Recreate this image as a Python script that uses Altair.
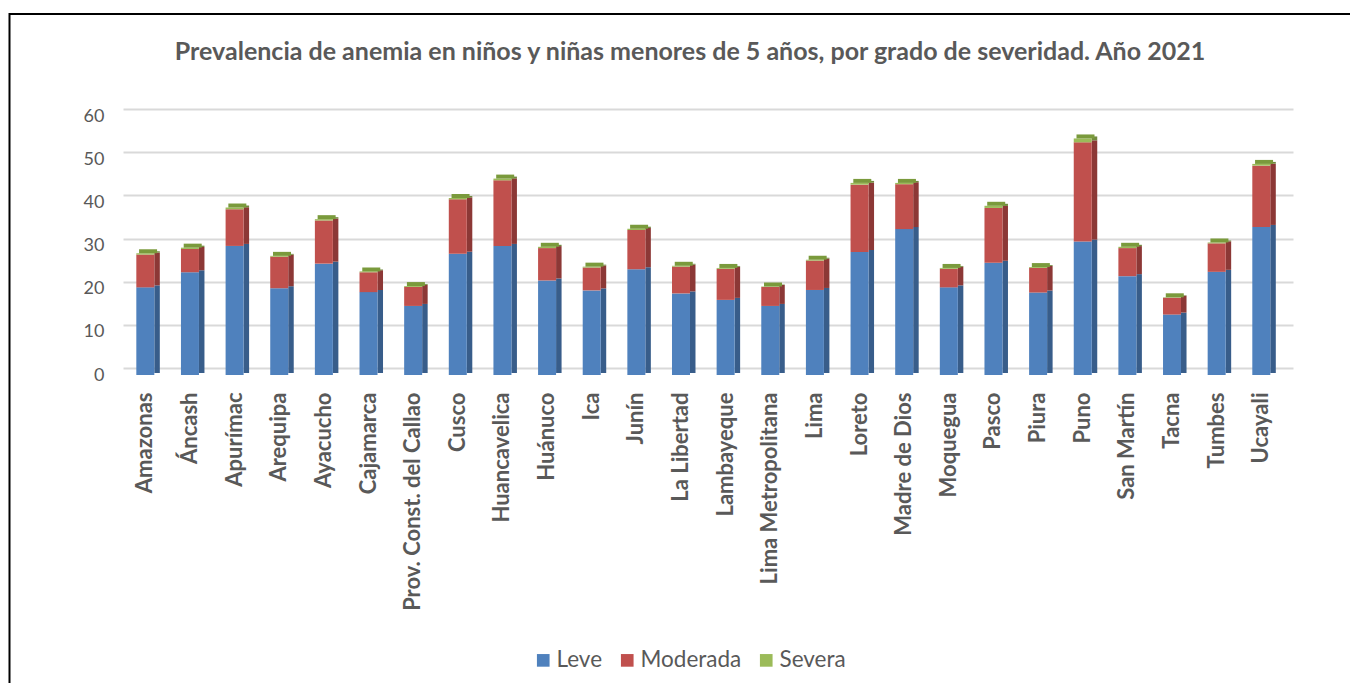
import altair as alt
import pandas as pd

departamentos = ["Amazonas", "Áncash", "Apurímac", "Arequipa", "Ayacucho", "Cajamarca",
                 "Prov. Const. del Callao", "Cusco", "Huancavelica", "Huánuco", "Ica", "Junín",
                 "La Libertad", "Lambayeque", "Lima Metropolitana", "Lima", "Loreto",
                 "Madre de Dios", "Moquegua", "Pasco", "Piura", "Puno", "San Martín", "Tacna",
                 "Tumbes", "Ucayali"]
leve = [20.3, 23.8, 29.9, 20.1, 25.8, 19.2, 16.0, 28.1, 29.9, 21.9, 19.6, 24.5, 18.9,
        17.4, 16.0, 19.7, 28.5, 33.8, 20.3, 26.0, 19.1, 30.9, 22.9, 14.0, 23.9, 34.3]
moderada = [7.6, 5.4, 8.5, 7.3, 10.0, 4.6, 4.4, 12.6, 15.2, 7.5, 5.3, 9.1, 6.2,
            7.2, 4.4, 6.8, 15.6, 10.4, 4.3, 12.7, 5.7, 23.0, 6.5, 3.9, 6.6, 14.2]
severa = [0.3, 0.3, 0.4, 0.2, 0.3, 0.2, 0.2, 0.3, 0.4, 0.3, 0.2, 0.3, 0.2,
          0.2, 0.1, 0.2, 0.4, 0.3, 0.2, 0.5, 0.2, 0.9, 0.3, 0.1, 0.2, 0.4]
series = ["Leve", "Moderada", "Severa"]
y_ticks = [0, 10, 20, 30, 40, 50, 60]
titulo = "Prevalencia de anemia en niños y niñas menores de 5 años, por grado de severidad. Año 2021"

rows = []
for i, d in enumerate(departamentos):
    for k, (s, vals) in enumerate(zip(series, [leve, moderada, severa])):
        rows.append({"dep": d, "serie": s, "orden": k, "valor": vals[i]})
df = pd.DataFrame(rows)

FONT = "Lato"
GRAY = "#595959"
front_colors = ["#4F81BD", "#C0504D", "#9BBB59"]
side_colors = ["#385D8A", "#8C3836", "#71893F"]

x_enc = alt.X("dep:N", sort=departamentos,
              scale=alt.Scale(paddingInner=0, paddingOuter=0.105, align=0),
              axis=alt.Axis(title=None, labelAngle=-90, labelFontWeight="bold",
                            labelFontSize=22, labelColor=GRAY, labelFont=FONT,
                            labelPadding=17, labelLimit=0, domain=False, ticks=False,
                            labelAlign="right", labelBaseline="middle"))
y_enc = alt.Y("valor:Q", stack="zero",
              scale=alt.Scale(domain=[0, 60], nice=False),
              axis=alt.Axis(title=None, values=y_ticks, grid=True, gridColor="#D9D9D9",
                            gridWidth=2, domain=False, ticks=False, labelFontSize=18,
                            labelColor=GRAY, labelFont=FONT, labelPadding=19,
                            tickOffset=-7, labelOffset=7))
order_enc = alt.Order("orden:Q", sort="ascending")

front = alt.Chart(df).mark_bar(width=18).encode(
    x=x_enc, y=y_enc, order=order_enc,
    color=alt.Color("serie:N", scale=alt.Scale(domain=series, range=front_colors),
                    legend=alt.Legend(orient="none", legendX=409, legendY=533,
                                      direction="horizontal", title=None,
                                      symbolType="square", symbolSize=160,
                                      symbolStrokeWidth=0, labelFontSize=22.5,
                                      labelColor=GRAY, labelFont=FONT,
                                      columnPadding=13, labelOffset=2)))

side = alt.Chart(df).mark_bar(width=5.5, xOffset=11.75, yOffset=-2).encode(
    x=x_enc, y=y_enc, order=order_enc,
    color=alt.Color("serie:N", scale=alt.Scale(domain=series, range=side_colors),
                    legend=None))

top = alt.Chart(df).mark_tick(thickness=4, size=18, xOffset=2.75, yOffset=-2,
                              color="#7A9A3C", orient="horizontal").encode(
    x=x_enc, y=alt.Y("sum(valor):Q", scale=alt.Scale(domain=[0, 60], nice=False)))

frame = alt.Chart(alt.Data(values=[{"k": 1}])).mark_rect(
    fill=None, stroke="#000000", strokeWidth=2).encode(
    x=alt.value(-113.5), x2=alt.value(1240), y=alt.value(-102), y2=alt.value(580))

chart = alt.layer(side, front, top, frame).resolve_scale(color="independent").properties(
    width=1170, height=259,
    autosize=alt.AutoSizeParams(type="none"),
    padding={"left": 115, "top": 108, "right": 57, "bottom": 308},
    title=alt.TitleParams(titulo, font=FONT, fontSize=25, fontWeight="bold",
                          color=GRAY, anchor="middle", dx=-18, offset=-52),
).configure_view(stroke=None)

chart.save("out.html", embed_options={"renderer": "svg", "actions": False})
